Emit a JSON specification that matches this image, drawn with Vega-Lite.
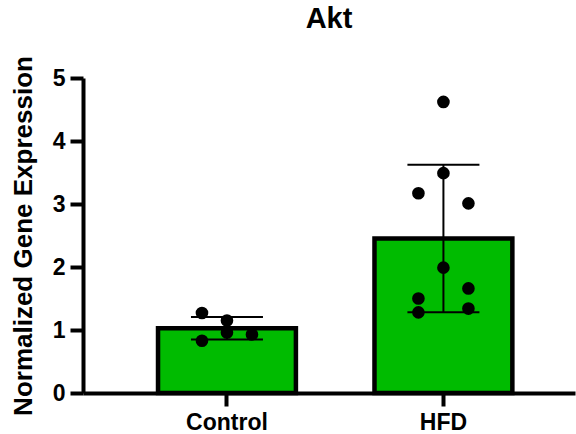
{
  "$schema": "https://vega.github.io/schema/vega-lite/v6.json",
  "autosize": {"type": "none"},
  "padding": {"left": 83, "top": 78, "right": 1, "bottom": 41},
  "width": 492,
  "height": 315,
  "background": "white",
  "config": {
    "font": "Liberation Sans",
    "view": {"stroke": null},
    "tick": {"opacity": 1},
    "axis": {"grid": false, "domainColor": "#000000", "domainWidth": 4, "domainOpacity": 1, "tickColor": "#000000", "tickWidth": 4, "tickOpacity": 1, "tickSize": 13, "labelColor": "#000000", "labelFont": "Liberation Sans", "labelFontWeight": "bold", "labelFontSize": 23, "titleFont": "Liberation Sans", "titleFontWeight": "bold", "titleFontSize": 26, "titleColor": "#000000"},
    "axisX": {"domainColor": "#000000", "domainWidth": 4, "tickColor": "#000000", "tickWidth": 4, "tickSize": 13},
    "axisY": {"domainColor": "#000000", "domainWidth": 4, "tickColor": "#000000", "tickWidth": 4, "tickSize": 13}
  },
  "title": {"text": "Akt", "fontSize": 29, "fontWeight": "bold", "font": "Liberation Sans", "color": "#000000", "offset": 22},
  "data": {"values": [
    {"group": "Control", "lane": "left", "value": 1.27},
    {"group": "Control", "lane": "middle", "value": 1.15},
    {"group": "Control", "lane": "middle", "value": 0.96},
    {"group": "Control", "lane": "right", "value": 0.93},
    {"group": "Control", "lane": "left", "value": 0.83},
    {"group": "HFD", "lane": "middle", "value": 4.62},
    {"group": "HFD", "lane": "middle", "value": 3.49},
    {"group": "HFD", "lane": "left", "value": 3.17},
    {"group": "HFD", "lane": "right", "value": 3.01},
    {"group": "HFD", "lane": "middle", "value": 1.99},
    {"group": "HFD", "lane": "right", "value": 1.66},
    {"group": "HFD", "lane": "left", "value": 1.50},
    {"group": "HFD", "lane": "left", "value": 1.28},
    {"group": "HFD", "lane": "right", "value": 1.34}
  ]},
  "encoding": {
    "x": {"field": "group", "type": "nominal", "title": null,
      "scale": {"domain": ["Control", "HFD"], "paddingInner": 0.363, "paddingOuter": 0.318, "align": 0.545},
      "axis": {"labelAngle": 0, "labelPadding": 5, "domainColor": "#000000", "domainWidth": 4, "tickColor": "#000000", "tickWidth": 4, "tickSize": 13}},
    "y": {"field": "value", "type": "quantitative", "title": "Normalized Gene Expression",
      "scale": {"domain": [0, 5], "nice": false},
      "axis": {"values": [0, 1, 2, 3, 4, 5], "labelPadding": 5, "titlePadding": 16, "domainColor": "#000000", "domainWidth": 4, "tickColor": "#000000", "tickWidth": 4, "tickSize": 13}}
  },
  "layer": [
    {"mark": {"type": "bar", "color": "#00BB00", "stroke": "#000000", "strokeWidth": 4.5},
     "encoding": {"y": {"aggregate": "mean", "field": "value", "type": "quantitative", "title": "Normalized Gene Expression",
       "scale": {"domain": [0, 5], "nice": false},
       "axis": {"values": [0, 1, 2, 3, 4, 5], "labelPadding": 5, "titlePadding": 16, "domainColor": "#000000", "domainWidth": 4, "tickColor": "#000000", "tickWidth": 4, "tickSize": 13}}}},
    {"mark": {"type": "errorbar", "extent": "stdev", "color": "#000000", "thickness": 2, "opacity": 1,
       "ticks": {"size": 72, "thickness": 2, "color": "#000000", "opacity": 1}},
     "encoding": {}},
    {"transform": [{"filter": "datum.lane === 'left'"}],
     "mark": {"type": "point", "filled": true, "color": "#000000", "size": 160, "opacity": 1, "xOffset": -25},
     "encoding": {}},
    {"transform": [{"filter": "datum.lane === 'middle'"}],
     "mark": {"type": "point", "filled": true, "color": "#000000", "size": 160, "opacity": 1},
     "encoding": {}},
    {"transform": [{"filter": "datum.lane === 'right'"}],
     "mark": {"type": "point", "filled": true, "color": "#000000", "size": 160, "opacity": 1, "xOffset": 25},
     "encoding": {}}
  ]
}
